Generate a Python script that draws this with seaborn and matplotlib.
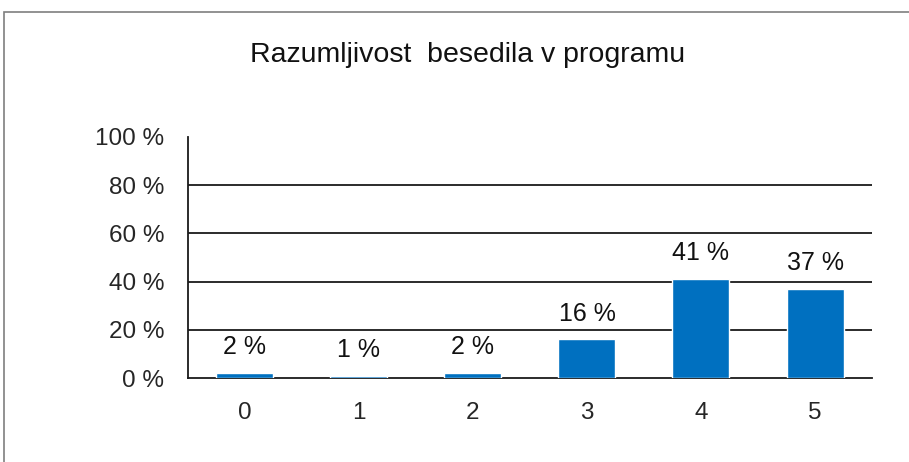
import matplotlib
matplotlib.use("Agg")
import matplotlib.pyplot as plt
import seaborn as sns
import pandas as pd
from matplotlib.patches import Rectangle
from matplotlib.ticker import FixedLocator

# data
categories = ["0", "1", "2", "3", "4", "5"]
shares = [2, 1, 2, 16, 41, 37]
y_ticks = [0, 20, 40, 60, 80, 100]
title = "Razumljivost  besedila v programu"

df = pd.DataFrame({"ocena": categories, "delez": shares})

sns.set_style("white")
plt.rcParams["font.family"] = ["Liberation Sans", "DejaVu Sans"]

fig = plt.figure(figsize=(9.09, 4.62), dpi=100)
ax = fig.add_axes([0.2068, 0.1818, 0.7525, 0.5217])

sns.barplot(data=df, x="ocena", y="delez", color="#0070C0", width=0.5,
            saturation=1, ax=ax, zorder=3)

ax.set_xlim(-0.5, len(categories) - 0.5)
ax.set_ylim(0, 100)
ax.set_yticks(y_ticks)
ax.set_yticklabels([f"{v} %" for v in y_ticks])
for v in y_ticks[1:-1]:
    ax.axhline(v, color="#1a1a1a", lw=1.3, zorder=1)

ax.xaxis.set_minor_locator(FixedLocator([i - 0.5 for i in range(len(categories) + 1)]))
ax.tick_params(axis="x", which="major", length=0, pad=17, labelsize=17.5)
ax.tick_params(axis="x", which="minor", length=6, width=1.2, color="#1a1a1a", direction="out")
ax.tick_params(axis="y", length=6, width=1.2, color="#1a1a1a", direction="out", labelsize=17.5, pad=11)

for s in ["top", "right"]:
    ax.spines[s].set_visible(False)
for s in ["left", "bottom"]:
    ax.spines[s].set_color("#1a1a1a")
    ax.spines[s].set_linewidth(1.3)

ax.set_xlabel("")
ax.set_ylabel("")

ax.bar_label(ax.containers[0], labels=[f"{v} %" for v in shares],
             padding=10, fontsize=18, color="#111111")

fig.text(0.514, 0.88, title, ha="center", va="center", fontsize=20.5, color="#111111")

# outer chart frame
fig.patches.append(Rectangle((4 / 909, -0.1), 1.2, 1.1 - 12 / 462, transform=fig.transFigure,
                             fill=False, edgecolor="#7f7f7f", lw=1.2, figure=fig))

fig.savefig("out.png", dpi=100)
